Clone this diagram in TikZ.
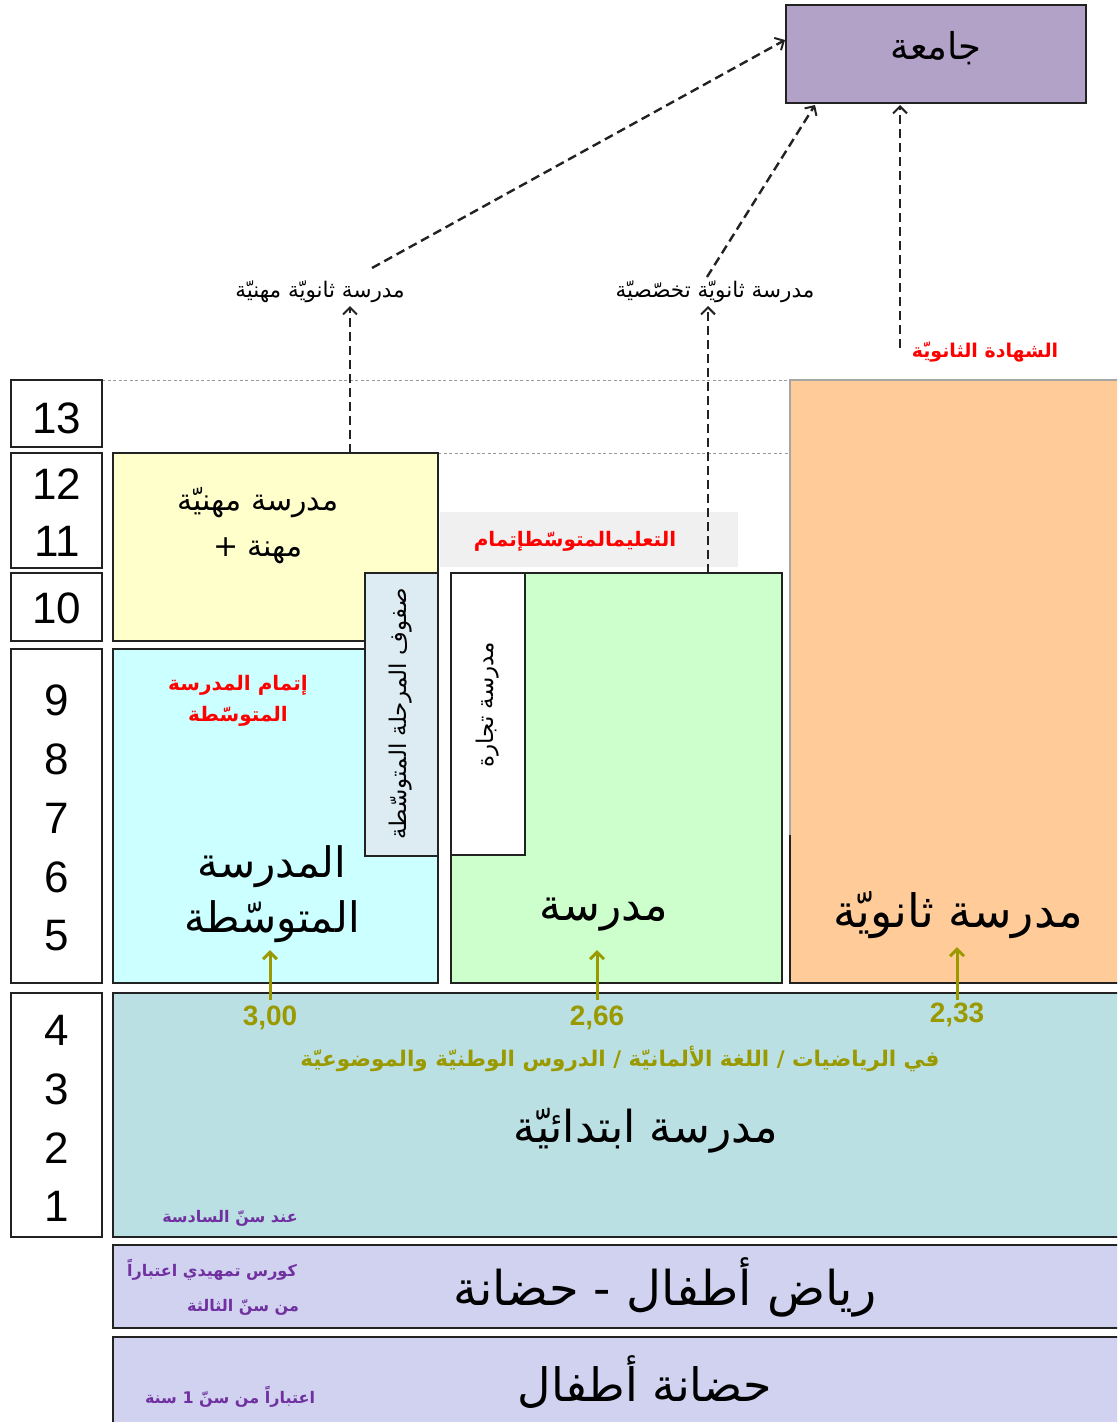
\documentclass[tikz,border=0pt]{standalone}
\usepackage{fontspec}
\setmainfont{Liberation Sans}
\newfontfamily\arfont[Script=Arabic]{DejaVu Sans}
\TeXXeTstate=1
\usetikzlibrary{arrows.meta}
\newcommand{\AR}[1]{{\arfont\beginR #1\endR}}
\newcommand{\fs}[1]{\fontsize{#1}{#1}\selectfont}
\definecolor{cyellow}{HTML}{FFFFCC}
\definecolor{ccyan}{HTML}{CCFFFF}
\definecolor{cnarrow}{HTML}{DDEBF3}
\definecolor{cgreen}{HTML}{CCFFCC}
\definecolor{corange}{HTML}{FFCC99}
\definecolor{cprim}{HTML}{BBE0E3}
\definecolor{ckg}{HTML}{D0D2F0}
\definecolor{cuni}{HTML}{B3A2C7}
\definecolor{cband}{HTML}{F0F0F0}
\definecolor{colive}{HTML}{9A9A00}
\definecolor{cpurple}{HTML}{7030A0}
\definecolor{cred}{HTML}{FF0000}
\definecolor{cline}{HTML}{222222}
\begin{document}
\begin{tikzpicture}[x=1pt,y=-1pt,
  box/.style={draw=cline, line width=1.8pt, anchor=north west, inner sep=0pt, outer sep=0pt},
  numtxt/.style={font=\fs{44}, inner sep=0pt},
  bigtxt/.style={font=\fs{44}, align=center, inner sep=0pt},
  dasharrow/.style={draw=cline, line width=2.4pt, dash pattern=on 9pt off 5pt, -{Straight Barb[length=7pt,width=14pt,line width=2pt]}},
  guide/.style={draw=gray!80, line width=1pt, dash pattern=on 3pt off 2.5pt},
  olivearrow/.style={draw=colive, line width=3pt, -{Straight Barb[length=7pt,width=14pt,line width=3pt]}},
  olivenum/.style={text=colive, font=\fs{28}\bfseries, inner sep=0pt},
  redtxt/.style={text=cred, font=\fs{20}\bfseries, align=center, inner sep=0pt},
  purptxt/.style={text=cpurple, font=\fs{16}\bfseries, align=center, inner sep=0pt},
  labtxt/.style={font=\fs{21.5}, inner sep=0pt},
  vtxt/.style={rotate=90, inner sep=0pt}
]
\useasboundingbox (0,0) rectangle (1117,1422);
\clip (0,0) rectangle (1117,1422);

% guide lines
\coordinate (g1a) at (102,380); \coordinate (g1b) at (790,380);
\coordinate (g2a) at (438,453); \coordinate (g2b) at (790,453);
\draw[guide] (g1a) -- (g1b);
\draw[guide] (g2a) -- (g2b);

% university
\node[box, fill=cuni, minimum width=300pt, minimum height=98pt] (uni) at (786,5) {};
\node[font=\fs{37}, inner sep=0pt] (unit) at (936,48) {\AR{جامعة}};

% year column
\node[box, fill=white, minimum width=91pt, minimum height=67pt] (n13) at (11,380) {};
\node[box, fill=white, minimum width=91pt, minimum height=115pt] (n1211) at (11,453) {};
\node[box, fill=white, minimum width=91pt, minimum height=68pt] (n10) at (11,573) {};
\node[box, fill=white, minimum width=91pt, minimum height=334pt] (n95) at (11,649) {};
\node[box, fill=white, minimum width=91pt, minimum height=244pt] (n41) at (11,993) {};
\node[numtxt] (t13) at (57,418) {13};
\node[numtxt] (t12) at (57,484) {12};
\node[numtxt] (t11) at (57,541) {11};
\node[numtxt] (t10) at (57,608) {10};
\node[numtxt] (t9) at (57,700) {9};
\node[numtxt] (t8) at (57,759) {8};
\node[numtxt] (t7) at (57,818) {7};
\node[numtxt] (t6) at (57,877) {6};
\node[numtxt] (t5) at (57,936) {5};
\node[numtxt] (t4) at (57,1030) {4};
\node[numtxt] (t3) at (57,1089) {3};
\node[numtxt] (t2) at (57,1148) {2};
\node[numtxt] (t1) at (57,1206) {1};

% orange secondary school
\node[anchor=north west, fill=corange, minimum width=340pt, minimum height=603pt, inner sep=0pt] (gym) at (790,380) {};
\coordinate (o1) at (790,380); \coordinate (o2) at (1120,380);
\coordinate (o3) at (790,835); \coordinate (o4) at (790,983); \coordinate (o5) at (1120,983);
\draw[gray!70, line width=1.2pt] (o2) -- (o1) -- (o3);
\draw[cline, line width=1.8pt] (o3) -- (o4) -- (o5);
\node[bigtxt, font=\fs{46}] (gymt) at (958,915) {\AR{مدرسة ثانويّة}};

% gray band label
\node[anchor=north west, fill=cband, minimum width=298pt, minimum height=55pt, inner sep=0pt] (band) at (440,512) {};
\node[redtxt] (bandt) at (575,541) {\AR{التعليمالمتوسّطإتمام}};

% vocational (yellow)
\node[box, fill=cyellow, minimum width=325pt, minimum height=188pt] (voc) at (113,453) {};
\node[font=\fs{30}, align=center, inner sep=0pt] (voct) at (258,526) {\AR{مدرسة مهنيّة}\\[16pt]\AR{مهنة +}};

% middle school (cyan)
\node[box, fill=ccyan, minimum width=325pt, minimum height=334pt] (haupt) at (113,649) {};
\node[redtxt] (hauptr) at (238,701) {\AR{إتمام المدرسة}\\[10pt]\AR{المتوسّطة}};
\node[bigtxt, font=\fs{42}] (hauptt) at (272,894) {\AR{المدرسة}\\[12pt]\AR{المتوسّطة}};

% narrow box
\node[box, fill=cnarrow, minimum width=73pt, minimum height=283pt] (narrow) at (365,573) {};
\node[vtxt, font=\fs{23}] (narrowt) at (401,714) {\AR{صفوف المرحلة المتوسّطة}};

% green Realschule
\node[box, fill=cgreen, minimum width=331pt, minimum height=410pt] (real) at (451,573) {};
\node[bigtxt] (realt) at (604,915) {\AR{مدرسة}};
\node[box, fill=white, minimum width=74pt, minimum height=282pt] (trade) at (451,573) {};
\node[vtxt, font=\fs{23}] (tradet) at (488,705) {\AR{مدرسة تجارة}};

% primary school
\node[box, fill=cprim, minimum width=1010pt, minimum height=244pt] (prim) at (113,993) {};
\node[bigtxt] (primt) at (646,1131) {\AR{مدرسة ابتدائيّة}};
\node[text=colive, font=\fs{21.5}\bfseries, inner sep=0pt] (subj) at (620,1059) {\AR{في الرياضيات / اللغة الألمانيّة / الدروس الوطنيّة والموضوعيّة}};
\node[purptxt] (age6) at (230,1218) {\AR{عند سنّ السادسة}};
\node[olivenum] (g300) at (270,1018) {3,00};
\node[olivenum] (g266) at (597,1018) {2,66};
\node[olivenum] (g233) at (957,1015) {2,33};
\coordinate (a1s) at (270,1000); \coordinate (a1e) at (270,950);
\coordinate (a2s) at (597,1000); \coordinate (a2e) at (597,950);
\coordinate (a3s) at (957,1000); \coordinate (a3e) at (957,947);
\draw[olivearrow] (a1s) -- (a1e);
\draw[olivearrow] (a2s) -- (a2e);
\draw[olivearrow] (a3s) -- (a3e);

% kindergarten
\node[box, fill=ckg, minimum width=1010pt, minimum height=83pt] (kg) at (113,1245) {};
\node[bigtxt, font=\fs{48}] (kgt) at (665,1287) {\AR{رياض أطفال - حضانة}};
\node[purptxt] (kgp1) at (212,1270) {\AR{كورس تمهيدي اعتباراً}};
\node[purptxt] (kgp2) at (243,1307) {\AR{من سنّ الثالثة}};

% creche
\node[box, fill=ckg, minimum width=1010pt, minimum height=90pt] (kr) at (113,1337) {};
\node[bigtxt, font=\fs{46}] (krt) at (645,1382) {\AR{حضانة أطفال}};
\node[purptxt] (krp) at (230,1397) {\AR{اعتباراً من سنّ 1 سنة}};

% top labels
\node[labtxt] (lab1) at (320,292) {\AR{مدرسة ثانويّة مهنيّة}};
\node[labtxt] (lab2) at (715,292) {\AR{مدرسة ثانويّة تخصّصيّة}};
\node[redtxt, font=\fs{19}\bfseries] (lab3) at (985,352) {\AR{الشهادة الثانويّة}};

% dashed connectors
\coordinate (d1s) at (350,453); \coordinate (d1e) at (350,306);
\coordinate (d2s) at (372,268); \coordinate (d2e) at (785,40);
\coordinate (d3s) at (708,573); \coordinate (d3e) at (708,306);
\coordinate (d4s) at (707,277); \coordinate (d4e) at (815,105);
\coordinate (d5s) at (900,348); \coordinate (d5e) at (900,105);
\draw[dasharrow] (d1s) -- (d1e);
\draw[dasharrow] (d2s) -- (d2e);
\draw[dasharrow] (d3s) -- (d3e);
\draw[dasharrow] (d4s) -- (d4e);
\draw[dasharrow] (d5s) -- (d5e);
\end{tikzpicture}
\end{document}
